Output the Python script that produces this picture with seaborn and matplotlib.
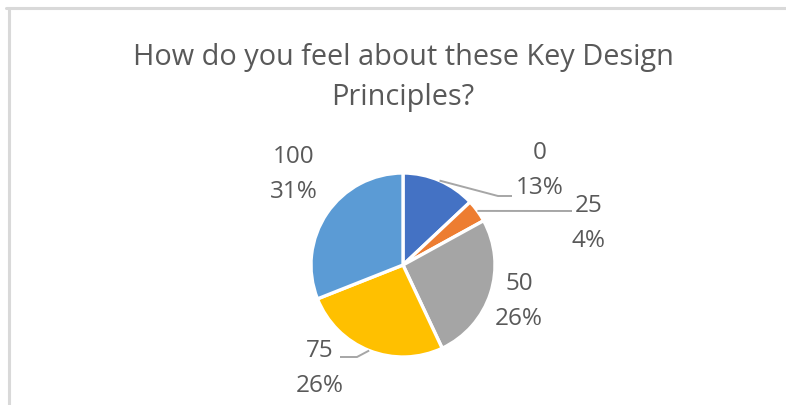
import numpy as np
import matplotlib
matplotlib.use("Agg")
import matplotlib.pyplot as plt
from matplotlib.lines import Line2D
import seaborn as sns

# Survey answers and their share of responses (%)
categories = ["0", "25", "50", "75", "100"]
shares = [13, 4, 26, 26, 31]
colors = ["#4472C4", "#ED7D31", "#A5A5A5", "#FFC000", "#5B9BD5"]
title_lines = ["How do you feel about these Key Design", "Principles?"]

sns.set_theme(style="white")
plt.rcParams["font.family"] = ["Open Sans", "DejaVu Sans"]

W, H = 786, 405
fig = plt.figure(figsize=(W / 100, H / 100), dpi=100)
fig.patch.set_facecolor("white")

# Work in pixel-like units: x to the right, y upward
ax = fig.add_axes([0, 0, 1, 1])

cx, cy, r = 403, H - 265, 92
palette = sns.color_palette(colors)
wedges, _ = ax.pie(
    shares, colors=palette, startangle=90, counterclock=False,
    center=(cx, cy), radius=r, frame=True,
    wedgeprops=dict(edgecolor="white", linewidth=2.4),
)
ax.set_xlim(0, W)
ax.set_ylim(0, H)
ax.set_aspect("equal")
ax.axis("off")

text_color = "#595959"
line_color = "#A6A6A6"

# Label anchors: x centre and baseline of the first line, pixels from top-left
label_pos = [(540, 159), (589, 212), (519, 290), (320, 357), (294, 163)]
line_gap = 35
# Leader line elbows for the labels that need one
leaders = {0: [(498, 196), (512, 196)], 1: [(572, 211)], 3: [(357, 357), (340, 357)]}

for i, (cat, val) in enumerate(zip(categories, shares)):
    lx, ly = label_pos[i]
    ax.text(lx, H - ly, cat, ha="center", va="baseline",
            fontsize=17.5, color=text_color)
    ax.text(lx, H - ly - line_gap, f"{val}%", ha="center", va="baseline",
            fontsize=17.5, color=text_color)
    if i in leaders:
        w = wedges[i]
        mid = np.deg2rad((w.theta1 + w.theta2) / 2)
        sx, sy = cx + r * np.cos(mid), cy + r * np.sin(mid)
        pts = [(sx, sy)] + [(px, H - py) for px, py in leaders[i]]
        xs, ys = zip(*pts)
        ax.plot(xs, ys, color=line_color, lw=1.4, solid_capstyle="butt")

# Chart title, two centred lines
for line, base in zip(title_lines, [65, 105]):
    ax.text(403, H - base, line, ha="center", va="baseline", fontsize=20.8,
            color=text_color)

# Chart area border (top and left edges visible)
fig.add_artist(Line2D([6 / W, 1], [1 - 8 / H, 1 - 8 / H], color="#D9D9D9",
                      lw=2.2, transform=fig.transFigure))
fig.add_artist(Line2D([8.5 / W, 8.5 / W], [0, 1 - 8 / H], color="#D9D9D9",
                      lw=2.2, transform=fig.transFigure))

fig.savefig("out.png", dpi=100, facecolor="white")
